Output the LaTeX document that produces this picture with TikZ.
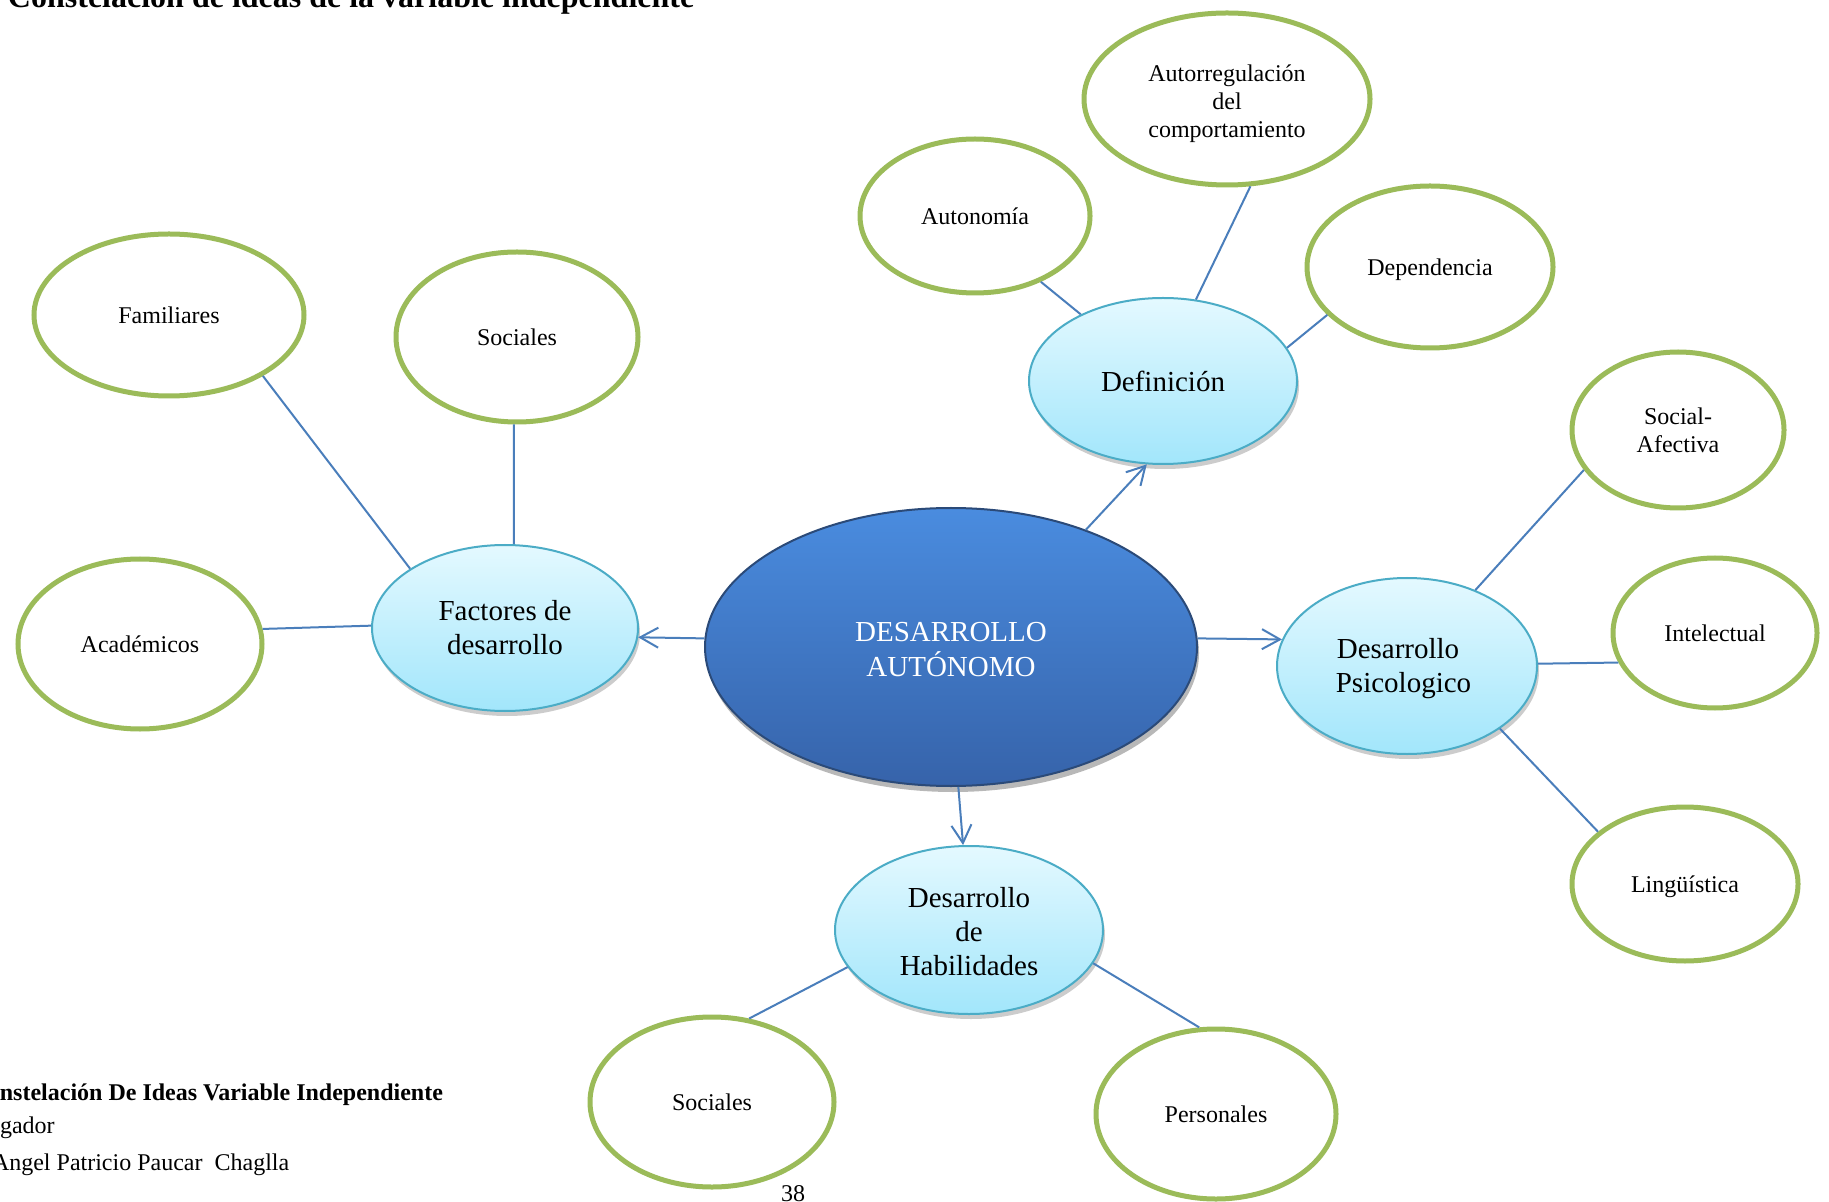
\documentclass[tikz,border=0pt]{standalone}
\usepackage{fontspec}
\setmainfont{Liberation Serif}
\usetikzlibrary{shapes.geometric,arrows.meta,shadows}
\definecolor{grn}{HTML}{9BBB59}
\definecolor{lnk}{HTML}{4A7EBB}
\definecolor{lbtop}{HTML}{E4F9FF}
\definecolor{lbbot}{HTML}{A2E6FB}
\definecolor{lbdraw}{HTML}{4BACC6}
\definecolor{ctop}{HTML}{4A8CDF}
\definecolor{cbot}{HTML}{3663AA}
\definecolor{cdraw}{HTML}{2B4A78}
\newcommand\tpstrut[1]{\rule{0pt}{#1}}
\begin{document}
\begin{tikzpicture}[x=0.5pt,y=-0.5pt,
  leaf/.style={ellipse,draw=grn,line width=2.5pt,fill=white,inner sep=0pt,align=center,
    font=\fontsize{12}{14}\selectfont},
  midnode/.style={ellipse,draw=lbdraw,line width=1pt,top color=lbtop,bottom color=lbbot,
    inner sep=0pt,align=center,font=\fontsize{14.5}{17}\selectfont,
    drop shadow={shadow xshift=1pt,shadow yshift=-2.5pt,opacity=0.2,fill=black}},
  corenode/.style={ellipse,draw=cdraw,line width=1pt,top color=ctop,bottom color=cbot,
    inner sep=0pt,align=center,text=white,font=\fontsize{14.5}{17.5}\selectfont,
    drop shadow={shadow xshift=1pt,shadow yshift=-3pt,opacity=0.28,fill=black}},
  link/.style={draw=lnk,line width=1pt},
  arr/.style={link,-{Straight Barb[length=9pt,width=10pt,line width=1pt]}},
  plain/.style={inner sep=0pt,outer sep=0pt}
]
\useasboundingbox (0,0) rectangle (1829,1202);
\clip (0,0) rectangle (1829,1202);
\fill[white] (0,0) rectangle (1829,1202);

% title (cut at top, as in the reference)
\node[plain,anchor=base west,font=\fontsize{16}{18}\selectfont\bfseries] (title) at (8,8)
  {Constelación de ideas de la variable independiente};

% central and second level
\node[corenode,minimum width=246pt,minimum height=139pt] (cen) at (951,647) {\tpstrut{12.5pt}DESARROLLO\\AUTÓNOMO};
\node[midnode,minimum width=134pt,minimum height=83pt] (def) at (1163,381) {Definición};
\node[midnode,minimum width=133pt,minimum height=83pt] (fac) at (505,628) {Factores de\\desarrollo};
\node[midnode,minimum width=130pt,minimum height=88pt] (psi) at (1407,666) {\tpstrut{13pt}Desarrollo\hspace*{9pt}\\Psicologico\hspace*{3.5pt}};
\node[midnode,minimum width=134pt,minimum height=84pt] (hab) at (969,930) {\tpstrut{11.6pt}Desarrollo\\de\\Habilidades};

% leaves
\node[leaf,minimum width=143pt,minimum height=86pt] (reg) at (1227,99) {\tpstrut{13.5pt}Autorregulación\\del\\comportamiento};
\node[leaf,minimum width=115pt,minimum height=77pt] (aut) at (975,216) {Autonomía};
\node[leaf,minimum width=123pt,minimum height=81pt,text depth=0pt] (dep) at (1430,267) {Dependencia};
\node[leaf,minimum width=135pt,minimum height=81pt] (fam) at (169,315) {Familiares};
\node[leaf,minimum width=121pt,minimum height=85pt] (socA) at (517,337) {Sociales};
\node[leaf,minimum width=122pt,minimum height=85pt] (aca) at (140,644) {Académicos};
\node[leaf,minimum width=106pt,minimum height=78pt] (saf) at (1678,430) {Social-\\Afectiva};
\node[leaf,minimum width=102pt,minimum height=75pt] (int) at (1715,633) {Intelectual};
\node[leaf,minimum width=113pt,minimum height=77pt,text depth=0pt] (lin) at (1685,884) {Lingüística};
\node[leaf,minimum width=122pt,minimum height=85pt] (socB) at (712,1102) {Sociales};
\node[leaf,minimum width=120pt,minimum height=85pt] (per) at (1216,1114) {Personales};

% arrows from centre
\draw[arr] (cen.41) -- (def.-101);
\draw[arr] (cen.178) -- (fac.-4);
\draw[arr] (cen.2) -- (psi.168);
\draw[arr] (cen.-87) -- (hab.94);

% links
\draw[link] (def.141) -- (aut.-45);
\draw[link] (def.68) -- (reg.-75);
\draw[link] (def.15) -- (dep.-155);
\draw[link] (fac.148) -- (fam.-33);
\draw[link] (fac.84.5) -- (socA.-92.4);
\draw[link] (fac.179) -- (aca.7.6);
\draw[link] (psi.48) -- (saf.-157);
\draw[link] (psi.1) -- (int.-163);
\draw[link] (psi.-34) -- (lin.149);
\draw[link] (hab.-163.5) -- (socB.66);
\draw[link] (hab.-15.5) -- (per.101.6);

% bottom-left caption (cut at left, as in the reference)
\node[plain,anchor=base east,font=\fontsize{12}{14}\selectfont\bfseries] (cap1) at (443,1100)
  {Constelación De Ideas Variable Independiente};
\node[plain,anchor=base west,font=\fontsize{12}{14}\selectfont] (cap2) at (0,1133) {gador};
\node[plain,anchor=base west,font=\fontsize{12}{14}\selectfont] (cap3) at (-8,1170)
  {Angel Patricio Paucar~~Chaglla};
\node[plain,anchor=base,font=\fontsize{12}{14}\selectfont] (page) at (793,1201) {38};
\end{tikzpicture}
\end{document}
